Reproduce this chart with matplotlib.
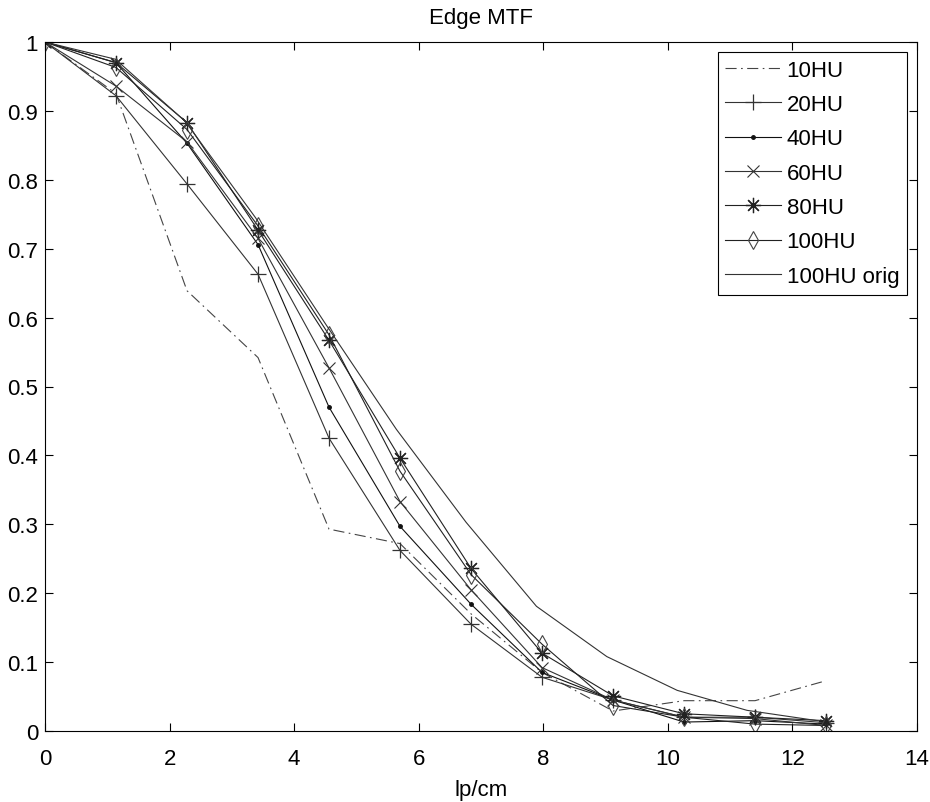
import numpy as np
import matplotlib.pyplot as plt

plt.rcParams['font.family'] = ['Liberation Sans', 'DejaVu Sans']

# spatial frequency samples (lp/cm)
lp = [0, 1.14, 2.28, 3.42, 4.56, 5.70, 6.84, 7.98, 9.12, 10.26, 11.40, 12.54]
lp_orig = [0, 1.13, 2.25, 3.38, 4.51, 5.64, 6.76, 7.89, 9.02, 10.15, 11.27, 12.40]

mtf_10 = [1.0, 0.925, 0.639, 0.542, 0.293, 0.272, 0.17, 0.085, 0.029, 0.044, 0.044, 0.073]
mtf_20 = [1.0, 0.922, 0.794, 0.663, 0.425, 0.262, 0.155, 0.078, 0.045, 0.02, 0.02, 0.012]
mtf_40 = [1.0, 0.97, 0.853, 0.706, 0.47, 0.297, 0.184, 0.085, 0.045, 0.013, 0.015, 0.01]
mtf_60 = [1.0, 0.936, 0.855, 0.715, 0.527, 0.333, 0.205, 0.092, 0.045, 0.02, 0.018, 0.008]
mtf_80 = [1.0, 0.97, 0.883, 0.727, 0.567, 0.396, 0.236, 0.113, 0.051, 0.025, 0.02, 0.015]
mtf_100 = [1.0, 0.963, 0.873, 0.733, 0.575, 0.377, 0.227, 0.126, 0.037, 0.02, 0.01, 0.008]
mtf_orig = [1.0, 0.975, 0.885, 0.745, 0.59, 0.438, 0.303, 0.181, 0.108, 0.059, 0.03, 0.015]

fig = plt.figure(figsize=(9.3, 8.03), dpi=100)
ax = fig.add_axes([45/930, 1-732/803, (917-45)/930, (732-43)/803])

lw = 0.8
ax.plot(lp, mtf_10, color='#444444', lw=lw, linestyle=(0, (10, 4, 1.5, 4)), label='10HU')
ax.plot(lp, mtf_20, color='#333333', lw=lw, marker='+', ms=11, mew=0.9, label='20HU')
ax.plot(lp, mtf_40, color='#111111', lw=lw, marker='.', ms=5, label='40HU')
ax.plot(lp, mtf_60, color='#333333', lw=lw, marker='x', ms=8, mew=0.8, label='60HU')
ax.plot(lp, mtf_80, color='#222222', lw=lw, marker=(8, 2, 0), ms=11, mew=0.9, label='80HU')
ax.plot(lp, mtf_100, color='#222222', lw=lw, marker='d', ms=9, mfc='none', mec='#444444',
        mew=0.8, label='100HU')
ax.plot(lp_orig, mtf_orig, color='#333333', lw=lw, label='100HU orig')

ax.set_xlim(0, 14)
ax.set_ylim(0, 1)
ax.set_xticks(np.arange(0, 15, 2))
ax.set_yticks(np.round(np.arange(0, 1.01, 0.1), 1))
ax.yaxis.set_major_formatter(plt.FormatStrFormatter('%g'))
ax.tick_params(direction='in', length=6, width=0.8, top=True, right=True, labelsize=16)
ax.tick_params(axis='x', pad=12)
ax.tick_params(axis='y', pad=5)
for s in ax.spines.values():
    s.set_linewidth(0.8)

ax.set_title('Edge MTF', fontsize=16, pad=14)
ax.set_xlabel('lp/cm', fontsize=16, labelpad=7.5)

leg = ax.legend(loc='upper right', fontsize=16, fancybox=False, framealpha=1,
                edgecolor='black', handlelength=2.5, handletextpad=0.25,
                labelspacing=0.6, borderaxespad=0.45, borderpad=0.35)
leg.get_frame().set_linewidth(0.8)

fig.savefig('out.png', dpi=100)
